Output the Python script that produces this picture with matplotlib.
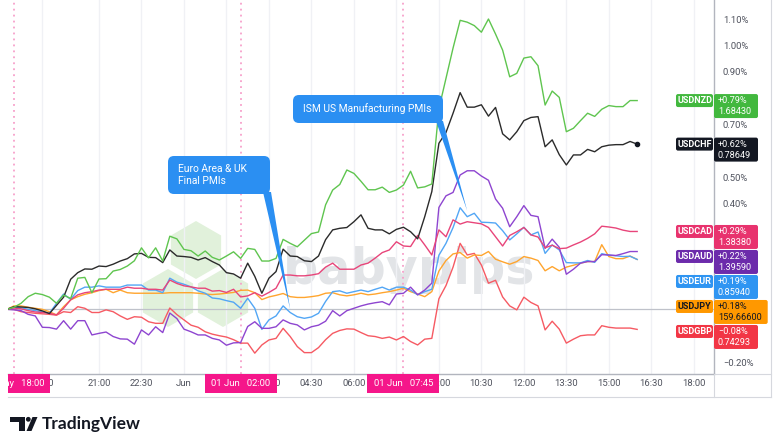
import numpy as np
import matplotlib
matplotlib.use("Agg")
import matplotlib.pyplot as plt
from matplotlib.patches import FancyBboxPatch, Polygon, RegularPolygon, Rectangle, Circle
from matplotlib.transforms import Bbox, IdentityTransform
from matplotlib.lines import Line2D

plt.rcParams['font.family'] = ['Roboto', 'DejaVu Sans']

# ---------------- data ----------------
bars = np.arange(-1, 89)          # 15-minute bars, bar 0 = 31 May 18:00
tick_bars = [4, 12, 18, 24, 30, 36, 42, 48, 54, 60, 66, 72, 78, 84, 90, 96]
# labels hidden under the highlighted time labels are left blank
tick_labels = ["19:00", "21:00", "22:30", "Jun", "", "03:00", "04:30", "06:00",
               "", "09:00", "10:30", "12:00", "13:30", "15:00", "16:30", "18:00"]
marker_bars = [0, 32, 55]
marker_labels = ["31 May   18:00", "01 Jun   02:00", "01 Jun   07:45"]
y_ticks = [-0.2, -0.1, 0.0, 0.1, 0.2, 0.3, 0.4, 0.5, 0.6, 0.7, 0.8, 0.9, 1.0, 1.1]
# labels hidden under the price tags are left blank
y_tick_labels = ["\u22120.20%", "", "", "", "", "", "0.40%", "0.50%", "", "0.70%", "", "0.90%", "1.00%", "1.10%"]

symbols = ["USDNZD", "USDCHF", "USDCAD", "USDAUD", "USDEUR", "USDJPY", "USDGBP"]
pct_labels = ["+0.79%", "+0.62%", "+0.29%", "+0.22%", "+0.19%", "+0.18%", "\u22120.08%"]
price_labels = ["1.68430", "0.78649", "1.38380", "1.39590", "0.85940", "159.66600", "0.74293"]

usdnzd = [0.000, 0.008, 0.023, 0.048, 0.061, 0.056, 0.046, 0.023, 0.054, 0.041,
          0.118, 0.121, 0.063, 0.115, 0.116, 0.145, 0.151, 0.164, 0.184, 0.233,
          0.195, 0.233, 0.183, 0.277, 0.267, 0.227, 0.222, 0.202, 0.221, 0.197,
          0.187, 0.202, 0.218, 0.193, 0.231, 0.227, 0.183, 0.183, 0.193, 0.265,
          0.250, 0.237, 0.262, 0.287, 0.293, 0.396, 0.452, 0.473, 0.528, 0.515,
          0.485, 0.453, 0.453, 0.463, 0.443, 0.452, 0.471, 0.523, 0.460, 0.464,
          0.475, 0.760, 0.875, 0.990, 1.095, 1.088, 1.075, 1.050, 1.100, 1.043,
          0.982, 0.881, 0.894, 0.952, 0.957, 0.923, 0.774, 0.827, 0.803, 0.673,
          0.686, 0.715, 0.743, 0.731, 0.758, 0.772, 0.768, 0.768, 0.791, 0.791]
usdchf = [0.000, 0.010, 0.009, 0.007, 0.002, -0.006, -0.016, 0.015, 0.046, 0.114,
          0.139, 0.153, 0.152, 0.164, 0.162, 0.171, 0.183, 0.192, 0.210, 0.212,
          0.197, 0.196, 0.177, 0.225, 0.202, 0.200, 0.197, 0.187, 0.196, 0.181,
          0.168, 0.139, 0.134, 0.118, 0.175, 0.125, 0.061, 0.118, 0.143, 0.228,
          0.202, 0.200, 0.184, 0.181, 0.202, 0.264, 0.301, 0.307, 0.310, 0.332,
          0.358, 0.307, 0.301, 0.301, 0.286, 0.303, 0.311, 0.294, 0.267, 0.351,
          0.446, 0.629, 0.670, 0.743, 0.821, 0.766, 0.766, 0.775, 0.732, 0.765,
          0.665, 0.642, 0.673, 0.715, 0.727, 0.730, 0.616, 0.642, 0.586, 0.547,
          0.585, 0.585, 0.606, 0.597, 0.616, 0.622, 0.624, 0.624, 0.636, 0.626]
usdcad = [0.000, 0.005, 0.002, -0.005, -0.010, -0.012, -0.015, -0.021, 0.004, 0.036,
          0.055, 0.063, 0.067, 0.073, 0.076, 0.076, 0.076, 0.084, 0.080, 0.080,
          0.076, 0.076, 0.073, 0.111, 0.098, 0.089, 0.085, 0.080, 0.080, 0.069,
          0.071, 0.064, 0.076, 0.047, 0.051, 0.063, 0.050, 0.064, 0.080, 0.130,
          0.130, 0.127, 0.127, 0.130, 0.135, 0.160, 0.175, 0.152, 0.152, 0.152,
          0.168, 0.175, 0.194, 0.215, 0.225, 0.256, 0.240, 0.238, 0.280, 0.244,
          0.206, 0.301, 0.275, 0.339, 0.323, 0.332, 0.328, 0.324, 0.310, 0.275,
          0.240, 0.280, 0.294, 0.310, 0.282, 0.274, 0.233, 0.243, 0.230, 0.232,
          0.244, 0.255, 0.269, 0.286, 0.315, 0.312, 0.308, 0.300, 0.295, 0.295]
usdaud = [0.000, -0.002, -0.005, -0.019, -0.025, -0.068, -0.069, -0.075, -0.043, -0.075,
          -0.043, -0.043, -0.097, -0.091, -0.086, -0.103, -0.112, -0.113, -0.132, -0.078,
          -0.097, -0.066, -0.088, -0.014, -0.035, -0.075, -0.085, -0.097, -0.097, -0.110,
          -0.116, -0.136, -0.127, -0.126, -0.065, -0.047, -0.072, -0.072, -0.066, -0.040,
          -0.053, -0.059, -0.078, -0.066, -0.060, -0.045, -0.005, -0.025, -0.005, 0.004,
          0.013, 0.020, 0.025, 0.029, 0.017, 0.058, 0.061, 0.084, 0.055, 0.073,
          0.099, 0.386, 0.430, 0.443, 0.509, 0.525, 0.525, 0.505, 0.489, 0.418,
          0.383, 0.313, 0.351, 0.393, 0.356, 0.351, 0.231, 0.266, 0.235, 0.133,
          0.152, 0.175, 0.181, 0.181, 0.207, 0.206, 0.204, 0.211, 0.219, 0.219]
usdeur = [0.000, 0.008, 0.006, 0.000, -0.005, -0.010, -0.015, 0.023, 0.058, 0.038,
          0.071, 0.084, 0.084, 0.089, 0.084, 0.084, 0.084, 0.092, 0.092, 0.092,
          0.073, 0.073, 0.063, 0.118, 0.103, 0.095, 0.085, 0.070, 0.061, 0.043,
          0.040, 0.033, 0.027, 0.004, 0.042, 0.004, -0.076, -0.040, -0.025, 0.013,
          -0.012, -0.028, -0.034, -0.029, -0.015, 0.030, 0.067, 0.070, 0.061, 0.067,
          0.073, 0.067, 0.076, 0.084, 0.073, 0.084, 0.084, 0.073, 0.055, 0.067,
          0.076, 0.205, 0.250, 0.310, 0.385, 0.351, 0.364, 0.330, 0.329, 0.327,
          0.298, 0.263, 0.286, 0.311, 0.282, 0.293, 0.212, 0.244, 0.225, 0.177,
          0.176, 0.176, 0.185, 0.178, 0.211, 0.205, 0.203, 0.200, 0.201, 0.189]
usdjpy = [0.000, 0.013, 0.013, 0.008, 0.004, 0.000, -0.009, -0.021, 0.010, 0.036,
          0.048, 0.057, 0.063, 0.071, 0.076, 0.063, 0.073, 0.063, 0.061, 0.061,
          0.061, 0.061, 0.061, 0.063, 0.063, 0.063, 0.063, 0.061, 0.058, 0.056,
          0.058, 0.061, 0.064, 0.072, 0.073, 0.063, 0.037, 0.047, 0.053, 0.060,
          0.048, 0.045, 0.045, 0.048, 0.052, 0.061, 0.063, 0.055, 0.051, 0.055,
          0.061, 0.055, 0.058, 0.063, 0.067, 0.073, 0.080, 0.067, 0.058, 0.048,
          0.067, 0.145, 0.185, 0.210, 0.215, 0.194, 0.206, 0.204, 0.219, 0.190,
          0.180, 0.171, 0.181, 0.200, 0.194, 0.185, 0.146, 0.162, 0.146, 0.160,
          0.167, 0.175, 0.181, 0.181, 0.245, 0.200, 0.192, 0.192, 0.202, 0.189]
usdgbp = [0.000, 0.000, -0.009, -0.012, -0.015, -0.017, -0.019, -0.022, -0.009, -0.012,
          0.010, 0.004, -0.012, -0.012, -0.002, -0.009, -0.025, -0.038, -0.028, -0.030,
          -0.047, -0.053, -0.053, 0.005, -0.020, -0.040, -0.060, -0.068, -0.085, -0.094,
          -0.100, -0.105, -0.115, -0.128, -0.128, -0.166, -0.135, -0.116, -0.110, -0.072,
          -0.103, -0.141, -0.164, -0.164, -0.145, -0.115, -0.091, -0.080, -0.074, -0.075,
          -0.088, -0.100, -0.103, -0.110, -0.105, -0.116, -0.103, -0.122, -0.135, -0.113,
          -0.110, 0.040, 0.090, 0.160, 0.250, 0.206, 0.212, 0.168, 0.099, 0.110,
          0.047, 0.013, -0.002, 0.046, 0.026, 0.013, -0.078, -0.045, -0.075, -0.128,
          -0.113, -0.100, -0.097, -0.097, -0.062, -0.068, -0.071, -0.071, -0.071, -0.076]

series = [usdnzd, usdchf, usdcad, usdaud, usdeur, usdjpy, usdgbp]
line_colors = ["#5fc54f", "#2b2b2b", "#e8457a", "#8e45d0", "#52a6f5", "#ffa52e", "#f65a63"]
tag_colors = ["#42b83e", "#131722", "#e8336e", "#6c2bab", "#2f95f2", "#ff9800", "#f23645"]
tag_text = ["white", "white", "white", "white", "white", "#131722", "white"]

ann_texts = ["Euro Area & UK\nFinal PMIs", "ISM US Manufacturing PMIs"]
ann_bars = [39, 64]
ann_vals = [0.0, 0.373]

# ---------------- figure ----------------
W, H = 780, 448
fig = plt.figure(figsize=(W / 100, H / 100), dpi=100)
fig.patch.set_facecolor("white")
ident = IdentityTransform()

AX_L, AX_R, AX_T, AX_B = 8, 714, 0, 374
ax = fig.add_axes([AX_L / W, 1 - AX_B / H, (AX_R - AX_L) / W, (AX_B - AX_T) / H])
ax.set_facecolor("none")
ax.set_xlim(-0.85, 98.85)
ax.set_ylim(-0.245, 1.172)

grey_txt = "#50535e"
ax.set_xticks(tick_bars)
ax.set_xticklabels(tick_labels)
ax.yaxis.tick_right()
ax.set_yticks(y_ticks)
ax.set_yticklabels(y_tick_labels)
ax.tick_params(axis="x", length=0, pad=3.3, labelsize=6.8, labelcolor=grey_txt)
ax.tick_params(axis="y", length=0, pad=6.3, labelsize=6.8, labelcolor=grey_txt)
for lab in ax.get_yticklabels():
    lab.set_horizontalalignment("left")
for s in ["top", "left"]:
    ax.spines[s].set_visible(False)
ax.spines["bottom"].set_color("#b2b5be")
ax.spines["right"].set_color("#b2b5be")
ax.spines["bottom"].set_linewidth(1.0)
ax.spines["right"].set_linewidth(1.0)
ax.grid(axis="x", color="#f0f1f5", lw=1.0, zorder=0)
ax.set_axisbelow(True)

# watermark (babypips)
hexc = "#e1f1db"
for cx, cy in [(196, 250), (168, 298), (223, 298)]:
    ax.add_patch(RegularPolygon((cx, H - cy), 6, radius=29, orientation=0, fc=hexc, ec="none",
                                transform=ident, zorder=0.3))
ax.text(283, H - 284, "babypips", transform=ident, fontsize=35.5, fontweight="bold",
        family="DejaVu Sans", color="#e2e4e7", ha="left", va="baseline", zorder=0.4)

# zero line and event markers
ax.axhline(0, color="#bfc2ca", lw=0.9, zorder=1.0)
for b in marker_bars:
    ax.axvline(b, color="#f7a0ca", lw=1.3, ls=(0, (1, 2.3)), zorder=1.1)

# series
for k, vals in enumerate(series):
    ax.plot(bars, vals, color=line_colors[k], lw=1.0, zorder=3 + 0.1 * (7 - k))
ax.plot([bars[-1]], [usdchf[-1]], "o", color="#131722", ms=3, zorder=4)

# callouts
cb = "#2b8ff2"
def rbox(x, y, w, h, color, r=2.0, z=10):
    p = FancyBboxPatch((x, H - y - h), w, h, boxstyle="round,pad=0,rounding_size=%g" % r,
                       fc=color, ec="none", transform=ident, zorder=z)
    fig.add_artist(p)
    return p

boxes = [(168, 156, 102, 38), (293, 95, 150, 28)]
tails = [(263, 271), (436, 443)]
for k in range(2):
    bx, by, bw, bh = boxes[k]
    tipx, tipy = ax.transData.transform((ann_bars[k], ann_vals[k]))
    tl, tr = tails[k]
    fig.add_artist(Polygon([(tl, H - by - bh + 2), (tr, H - by - bh + 2), (tipx, tipy)], closed=True,
                           fc=cb, ec="none", transform=ident, zorder=9))
    rbox(bx, by, bw, bh, cb, r=6, z=9)
    fig.text(bx + 10, H - by - bh / 2, ann_texts[k], transform=ident, color="white", fontsize=7.4,
             ha="left", va="center", linespacing=1.25, zorder=11)

# right-hand price labels
order = sorted(range(len(series)), key=lambda k: -series[k][-1])
prev_bottom = -1e9
for k in order:
    yd = ax.transData.transform((bars[-1], series[k][-1]))[1]
    top = max((H - yd) - 6.5, prev_bottom + 1)
    prev_bottom = top + 24
    vw = max(44, 6 + 5.3 * len(price_labels[k]))
    rbox(676, top, 37, 13, tag_colors[k], r=2, z=12)
    rbox(714, top, vw, 24, tag_colors[k], r=2, z=12)
    fig.text(694.5, H - top - 6.7, symbols[k], transform=ident, color=tag_text[k], fontsize=6.5,
             fontweight="bold", ha="center", va="center", zorder=13)
    fig.text(718, H - top - 6.5, pct_labels[k], transform=ident, color=tag_text[k], fontsize=6.6,
             ha="left", va="center", zorder=13)
    fig.text(718, H - top - 17.8, price_labels[k], transform=ident, color=tag_text[k], fontsize=6.6,
             ha="left", va="center", zorder=13)

# frame lines of the chart widget
for (x0, y0, x1, y1) in [(714, 374, 771, 374), (8, 397, 771, 397), (714, 374, 714, 397), (771, 0, 771, 397)]:
    fig.add_artist(Line2D([x0, x1], [H - y0, H - y1], color="#d6d8de", lw=0.8, transform=ident, zorder=5))

# pink time labels on the axis
pink = "#f5168a"
clipbox = Bbox([[8, 0], [771, H]])
for b, lab in zip(marker_bars, marker_labels):
    xd = ax.transData.transform((b, 0))[0]
    r = Rectangle((xd - 36, H - 393), 72, 19, fc=pink, ec="none", transform=ident, zorder=14)
    fig.add_artist(r)
    r.set_clip_box(clipbox)
    t = fig.text(xd, H - 383.5, lab, transform=ident, color="white", fontsize=6.8,
                 ha="center", va="center", zorder=15)
    t.set_clip_box(clipbox)
    t.set_clip_on(True)

# TradingView logo
k = "#131722"
fig.add_artist(Rectangle((10, H - 422), 15, 5, fc=k, ec="none", transform=ident))
fig.add_artist(Rectangle((18.5, H - 431), 6.5, 14, fc=k, ec="none", transform=ident))
fig.add_artist(Circle((28.3, H - 419.3), 2.4, fc=k, ec="none", transform=ident))
fig.add_artist(Polygon([(26.5, H - 431), (32.5, H - 417), (37.5, H - 417), (31.5, H - 431)], closed=True,
                       fc=k, ec="none", transform=ident))
fig.text(42, H - 424, "TradingView", transform=ident, color=k, fontsize=12.5, fontweight="bold",
         family=["Lato", "DejaVu Sans"], ha="left", va="center")

fig.savefig("out.png", dpi=100, facecolor="white")
